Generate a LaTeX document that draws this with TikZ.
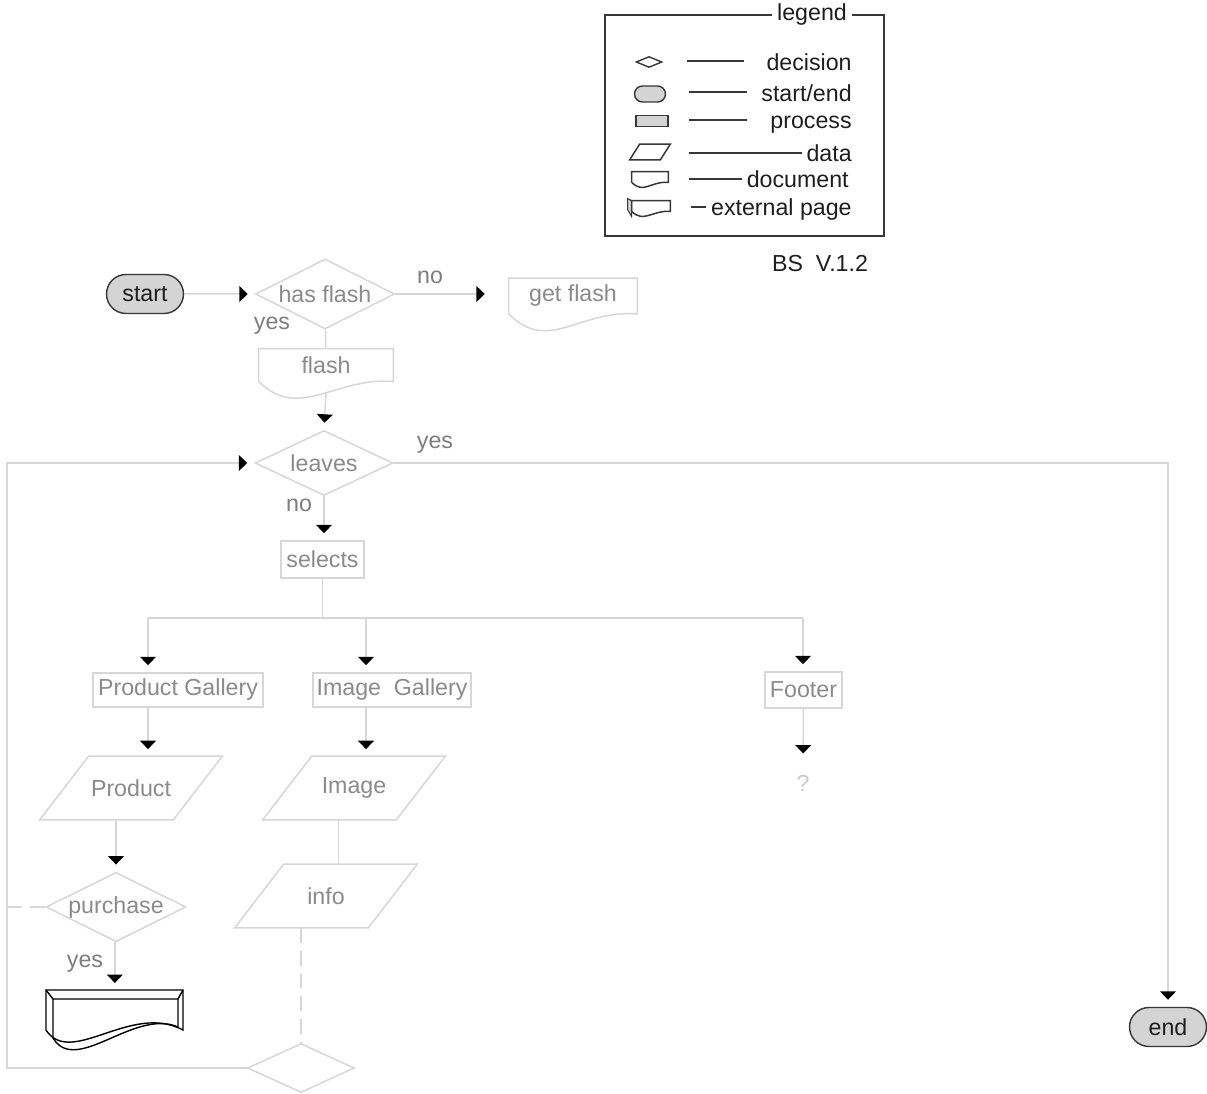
\documentclass[tikz,border=0pt]{standalone}
\usepackage{fontspec}
\setmainfont{Liberation Sans}
\usetikzlibrary{arrows.meta,shapes.geometric,shapes.misc}
\definecolor{linegray}{RGB}{214,214,214}
\definecolor{textgray}{RGB}{138,138,138}
\definecolor{answergray}{RGB}{125,125,125}
\definecolor{qgray}{RGB}{200,200,200}
\definecolor{termfill}{RGB}{212,212,212}
\definecolor{darkline}{RGB}{55,55,55}
\definecolor{legendtext}{RGB}{30,30,30}
\tikzstyle{flowline}=[draw=linegray,line width=0.85pt]
\tikzstyle{edge}=[flowline,-{Triangle[color=black,width=9pt,length=4.8pt]},shorten >=4pt]
\tikzstyle{terminal}=[rounded rectangle,draw=darkline,fill=termfill,line width=0.8pt,text=legendtext,minimum width=1.54cm,minimum height=0.78cm,inner sep=0pt]
\tikzstyle{decision}=[diamond,aspect=2,flowline,text=textgray,inner sep=0pt]
\tikzstyle{process}=[rectangle,flowline,text=textgray,inner sep=0pt]
\tikzstyle{dataio}=[rectangle,text=textgray,minimum width=2.66cm,minimum height=1.26cm,inner sep=0pt]
\tikzstyle{docbox}=[rectangle,text=textgray,inner sep=0pt]
\tikzstyle{answer}=[text=answergray,inner sep=0pt]
\tikzstyle{legicon}=[draw=darkline,line width=0.8pt,inner sep=0pt]
\tikzstyle{legtext}=[text=legendtext,inner sep=0pt]
\tikzstyle{legline}=[draw=darkline,line width=0.7pt]

\begin{document}
\begin{tikzpicture}[x=0.02cm, y=-0.02cm, font=\fontsize{13.2}{15.8}\selectfont]
    \useasboundingbox (0,0) rectangle (1207,1094);
    % Legend box, its title sits on the top line
    \draw[legline, line width=0.85pt] (605,15) rectangle (884,236);
    \node[legtext, fill=white, inner xsep=3pt, anchor=base] (legtitle) at (812,21) {legend};
    % legend symbols
    \node[legicon, diamond, minimum width=0.52cm, minimum height=0.22cm] (legdec) at (649,62) {};
    \node[legicon, rounded rectangle, fill=termfill, minimum width=0.62cm, minimum height=0.32cm] (legterm) at (650,94) {};
    \node[legicon, rectangle, fill=termfill, minimum width=0.64cm, minimum height=0.22cm] (legproc) at (652,121) {};
    \node[docbox, minimum width=0.6cm, minimum height=0.3cm] (legdata) at (650,152) {};
    \node[docbox, minimum width=0.72cm, minimum height=0.2cm] (legdoc) at (650,177) {};
    \node[docbox, minimum width=0.76cm, minimum height=0.2cm] (legext) at (651,206) {};
    \fill[termfill, draw=darkline, line width=0.6pt] (legext.north west) -- ++(-4,-2) -- ++(0,11) -- ++(4,7) -- cycle;
    % legend names and their lines
    \foreach \pos/\name/\txt in {{(852,71)/lbldec/decision}, {(852,102)/lblterm/{start/end}}, {(852,129)/lblproc/process},
                                 {(852,162)/lbldata/data}, {(849,188)/lbldoc/document}, {(852,216)/lblext/external page}}
        \node[legtext, anchor=base east] (\name) at \pos {\txt};
    \foreach \y/\a/\b in {61/687/744, 92/689/747, 120/689/747, 153/689/802, 179/689/742, 207/691/706}
        \draw[legline] (\a,\y) -- (\b,\y);
    \node[legtext, anchor=base] (version) at (820,272) {BS\ \ V.1.2};

    % First the vertices of the flow
    \foreach \pos/\name/\txt in {{(145,294)/start/start}, {(1168,1027)/end/end}}
        \node[terminal] (\name) at \pos {\txt};
    \foreach \pos/\name/\txt/\w/\h in {{(325,294)/hasflash/has flash/2.78/1.4}, {(324,463)/leaves/leaves/2.76/1.3},
                                       {(116,907)/purchase/purchase/2.8/1.32}, {(301,1068)/check//2.14/0.98}}
        \node[decision, minimum width=\w cm, minimum height=\h cm] (\name) at \pos {\txt};
    \foreach \pos/\name/\txt/\w/\h in {{(322.5,559.5)/selects/selects/1.66/0.74}, {(178,690)/prodgal/Product Gallery/3.4/0.68},
                                       {(392,690)/imggal/Image\ \ Gallery/3.16/0.68}, {(803.5,690)/footer/Footer/1.54/0.72}}
        \node[process, minimum width=\w cm, minimum height=\h cm] (\name) at \pos {\txt};
    \foreach \pos/\name/\txt in {{(131,788)/product/Product}, {(354,788)/image/Image}, {(326,896)/info/info}}
        \node[dataio] (\name) at \pos {\txt};
    \node[docbox, minimum width=2.56cm, minimum height=0.7cm] (getflash) at (573,296) {get flash};
    \node[docbox, minimum width=2.68cm, minimum height=0.64cm] (flash) at (326,365) {flash};
    \node[text=qgray, inner sep=0pt] (qmark) at (803,783) {?};
    \node[docbox, minimum width=2.74cm, minimum height=0.8cm, anchor=north west] (extpage) at (46,990) {};

    % slanted outline of the data
    \foreach \name/\s/\col in {product/24.5/linegray, image/24.5/linegray, info/24.5/linegray, legdata/5/darkline}
        \draw[draw=\col, line width=0.85pt] ([shift={(-\s,0)}]\name.south west) -- ([shift={(\s,0)}]\name.north west)
            -- ([shift={(\s,0)}]\name.north east) -- ([shift={(-\s,0)}]\name.south east) -- cycle;
    % wavy outline of the documents
    \foreach \name/\s/\col in {getflash/1/linegray, flash/1/linegray, legdoc/0.3/darkline, legext/0.3/darkline}
        \draw[draw=\col, line width=0.85pt] (\name.south west) -- (\name.north west) -- (\name.north east) -- (\name.south east)
            .. controls +(-60*\s,-4*\s) and +(40*\s,40*\s) .. (\name.south west);
    % external page
    \begin{scope}[shift={(extpage.north west)}, line width=0.8pt]
        \draw (0,40) -- (0,0) -- (137,0) -- (137,40) .. controls (85,12) and (25,78) .. (0,40);
        \draw (7,48) -- (7,9) -- (132,9) -- (132,37) .. controls (88,18) and (30,86) .. (7,48);
        \draw (0,0) -- (7,9) (137,0) -- (132,9);
    \end{scope}

    % yes / no
    \foreach \pos/\name/\txt in {{(430,284)/nohas/no}, {(272,330)/yeshas/yes}, {(435,449)/yesleave/yes},
                                 {(299,512)/noleave/no}, {(85,967)/yesbuy/yes}}
        \node[answer, anchor=base] (\name) at \pos {\txt};

    % Connect the vertices
    \coordinate (fork) at (322.5,618);
    \coordinate (pgdrop) at (148,618);
    \coordinate (igdrop) at (366,618);
    \coordinate (footdrop) at (803,618);
    \coordinate (loopcorner) at (7,1068);
    \coordinate (infotop) at ([xshift=7pt]info.north);
    \path[edge] (start) -- (hasflash);
    \path[edge, shorten >=13.6pt] (hasflash.east) -- (hasflash.east -| getflash.west);
    \path[flowline] (hasflash) -- (flash);
    \path[edge] ([shift={(0,11)}]flash.south) -- (leaves.north);
    \path[edge] (leaves.south) -- (leaves.south |- selects.north);
    \path[edge] (leaves.east) -| (end.north);
    \path[edge] (check.west) -- (loopcorner) |- (leaves.west);
    \path[flowline] (selects) -- (fork);
    \path[flowline] (pgdrop) -- (footdrop);
    \foreach \drop/\dest in {pgdrop/prodgal, igdrop/imggal, footdrop/footer}
        \path[edge] (\drop) -- (\drop |- \dest.north);
    \path[edge] (pgdrop |- prodgal.south) -- (pgdrop |- product.north);
    \path[edge] (igdrop |- imggal.south) -- (igdrop |- image.north);
    \path[edge, shorten >=12pt] (footer) -- (qmark);
    \path[edge] (purchase.north |- product.south) -- (purchase.north);
    \path[edge] (extpage.north |- purchase.south) -- (extpage.north);
    \path[flowline, dash pattern=on 8.5pt off 4.5pt] (purchase.west) -- (purchase.west -| loopcorner);
    \path[flowline] (infotop |- image.south) -- (infotop);
    \path[flowline, dash pattern=on 8.5pt off 4.5pt] (check.north |- info.south) -- (check.north);
\end{tikzpicture}
\end{document}
